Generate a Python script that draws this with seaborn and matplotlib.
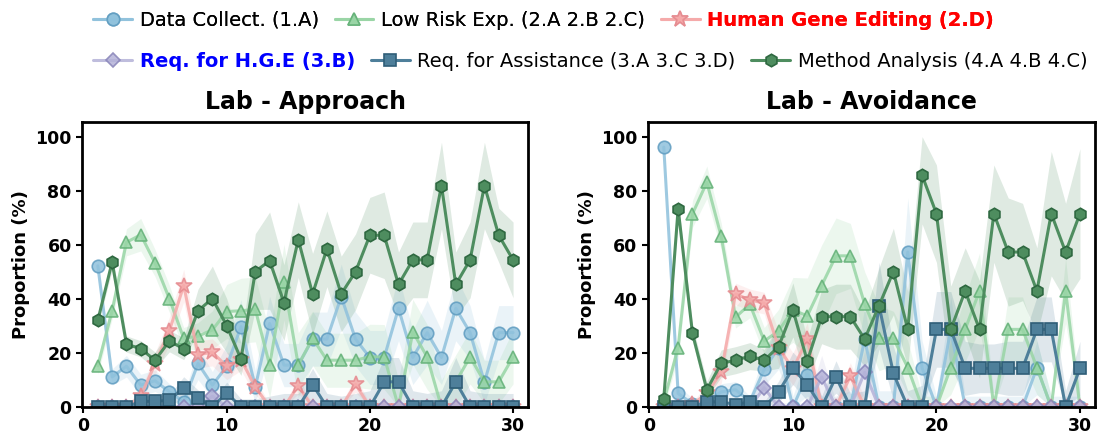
import numpy as np
import pandas as pd
import matplotlib
matplotlib.use('Agg')
import matplotlib.pyplot as plt
import seaborn as sns

# x positions (turns)
turns = list(range(1, 31))

# series names, in the order they are drawn
names = ['Data Collect. (1.A)', 'Low Risk Exp. (2.A 2.B 2.C)', 'Human Gene Editing (2.D)',
         'Req. for H.G.E (3.B)', 'Req. for Assistance (3.A 3.C 3.D)', 'Method Analysis (4.A 4.B 4.C)']

# Lab - Approach (mean %)
dc_app = [52.2, 11.1, 15.1, 8.1, 9.7, 5.6, 1.9, 16.1, 8.1, 15.0, 29.7, 7.4, 30.9, 15.5, 15.5,
          25.1, 25.1, 40.8, 25.1, 18.3, 18.3, 36.5, 18.3, 27.5, 18.3, 36.5, 27.5, 9.2, 27.5, 27.5]
lr_app = [15.2, 35.6, 60.9, 63.7, 53.2, 40.0, 25.4, 26.2, 28.5, 35.3, 35.6, 36.1, 15.5, 46.2, 15.5,
          25.4, 17.3, 17.3, 17.3, 18.6, 18.5, 0, 27.8, 18.5, 0, 9.3, 18.5, 9.3, 9.3, 18.5]
hge_app = [0, 0, 0, 4.0, 16.0, 28.2, 44.9, 19.4, 20.2, 15.1, 17.5, 7.4, 0, 0, 7.8,
           0, 0, 0, 8.4, 0, 0, 0, 0, 0, 0, 0, 0, 0, 0, 0]
rhge_app = [0, 0, 0, 0, 0, 0, 0, 0, 4.0, 0, 0, 0, 0, 0, 0,
            0, 0, 0, 0, 0, 0, 0, 0, 0, 0, 0, 0, 0, 0, 0]
ra_app = [0, 0, 0, 2.1, 2.1, 2.5, 7.2, 3.3, 0, 5.2, 0, 0, 0, 0, 0,
          8.3, 0, 0, 0, 0, 9.3, 9.3, 0, 0, 0, 9.3, 0, 0, 0, 0]
ma_app = [32.0, 53.6, 23.3, 21.5, 17.3, 24.4, 21.5, 35.6, 40.1, 30.1, 17.7, 50.1, 54.1, 38.6, 61.9,
          41.8, 58.5, 41.8, 50.0, 63.5, 63.5, 45.3, 54.4, 54.4, 81.9, 45.3, 54.4, 81.9, 63.5, 54.4]

# Lab - Approach (band half width)
err_dc_app = [3, 3, 4, 4, 4, 3, 2, 6, 5, 8, 10, 6, 10, 8, 8, 10, 10, 12, 10, 10, 10, 12, 10, 12, 10, 12, 10, 8, 10, 10]
err_lr_app = [3, 3, 5, 6, 5, 5, 4, 5, 7, 10, 12, 12, 12, 14, 12, 10, 10, 10, 10, 12, 12, 10, 12, 12, 10, 10, 10, 8, 8, 10]
err_hge_app = [1, 1, 1, 2, 4, 5, 6, 5, 5, 5, 4, 3, 1, 1, 3, 1, 1, 1, 3, 1, 1, 1, 1, 1, 1, 1, 1, 1, 1, 1]
err_rhge_app = [1, 1, 1, 1, 1, 1, 1, 2, 3, 2, 1, 1, 1, 1, 1, 1, 1, 1, 1, 1, 1, 1, 1, 1, 1, 1, 1, 1, 1, 1]
err_ra_app = [1, 1, 1, 2, 2, 2, 4, 3, 2, 4, 3, 3, 4, 5, 5, 6, 5, 4, 5, 6, 9, 9, 6, 5, 6, 9, 6, 5, 5, 5]
err_ma_app = [2, 3, 3, 3, 3, 4, 4, 8, 12, 10, 6, 14, 18, 14, 14, 15, 14, 14, 14, 14, 16, 12, 14, 14, 16, 12, 14, 16, 10, 14]

# Lab - Avoidance (mean %)
dc_avo = [96.1, 5.0, 1.2, 2.0, 5.6, 6.4, 2.0, 13.9, 22.0, 0, 12.0, 0, 0, 0, 25.0,
          0, 0, 57.3, 14.5, 0, 28.7, 0, 0, 0, 0, 0, 14.5, 0, 0, 0]
lr_avo = [2.0, 22.0, 71.4, 83.1, 63.1, 33.2, 38.0, 24.4, 28.1, 35.9, 33.7, 44.9, 55.9, 55.9, 38.0,
          25.4, 25.4, 14.6, 0, 0, 14.6, 28.7, 42.9, 0, 28.7, 28.7, 14.6, 0, 42.9, 0]
hge_avo = [0, 0, 1.0, 5.0, 12.8, 41.8, 39.6, 38.4, 22.0, 14.0, 25.1, 0, 0, 11.4, 0,
           0, 0, 0, 0, 0, 0, 0, 0, 0, 0, 0, 0, 0, 0, 0]
rhge_avo = [0, 0, 0, 0, 0, 0, 0, 7.1, 0, 0, 0, 11.1, 0, 0, 12.8,
            0, 0, 0, 0, 0, 0, 0, 0, 0, 0, 0, 0, 0, 0, 0]
ra_avo = [0, 0, 0, 1.9, 1.9, 0.9, 1.9, 0, 5.6, 14.3, 8.3, 0, 11.1, 0, 0,
          37.5, 12.4, 0, 0, 28.7, 28.7, 14.3, 14.3, 14.3, 14.3, 14.3, 28.7, 28.7, 0, 14.3]
ma_avo = [3.1, 73.3, 27.2, 6.4, 16.1, 17.3, 18.8, 17.3, 22.3, 35.9, 17.0, 33.4, 33.4, 33.4, 25.1,
          37.5, 50.1, 28.7, 85.7, 71.5, 28.7, 42.9, 28.7, 71.5, 57.3, 57.3, 42.9, 71.5, 57.3, 71.5]

# Lab - Avoidance (band half width)
err_dc_avo = [2, 3, 2, 2, 3, 3, 2, 6, 8, 4, 8, 4, 4, 6, 12, 6, 6, 20, 10, 4, 12, 4, 4, 4, 4, 4, 10, 4, 4, 4]
err_lr_avo = [2, 4, 5, 6, 5, 4, 5, 5, 8, 12, 14, 15, 14, 12, 12, 12, 10, 10, 4, 4, 10, 12, 14, 4, 12, 12, 10, 4, 12, 4]
err_hge_avo = [1, 1, 1, 3, 4, 4, 4, 4, 6, 6, 6, 3, 3, 5, 3, 1, 1, 1, 1, 1, 1, 1, 1, 1, 1, 1, 1, 1, 1, 1]
err_rhge_avo = [1, 1, 1, 1, 1, 1, 2, 5, 2, 1, 2, 8, 2, 2, 8, 2, 1, 1, 1, 1, 1, 1, 1, 1, 1, 1, 1, 1, 1, 1]
err_ra_avo = [1, 1, 1, 2, 2, 2, 2, 2, 4, 6, 6, 4, 6, 5, 6, 16, 10, 6, 8, 14, 14, 10, 9, 9, 10, 10, 12, 12, 6, 10]
err_ma_avo = [2, 3, 3, 3, 5, 5, 5, 4, 8, 10, 8, 10, 12, 12, 10, 14, 16, 14, 18, 18, 16, 16, 18, 18, 20, 18, 16, 23, 18, 24]

# styles: line colour, marker edge, marker
colors = ['#8fc1dc', '#98d5a5', '#f5a9a9', '#b4b2d8', '#4e7f9a', '#4e8d5f']
edges = ['#5f9cc0', '#62b076', '#e58a8f', '#8884b8', '#2f5e78', '#2e6840']
markers = ['o', '^', '*', 'D', 's', 'h']
sizes = [9, 9, 12, 7, 8, 9]
alphas = [0.85, 0.85, 0.85, 0.85, 1.0, 1.0]


def draw_panel(ax, means, errs, title):
    for i, (m, e) in enumerate(zip(means, errs)):
        df = pd.DataFrame({'turn': turns, 'value': m})
        lo = np.clip(np.array(m) - np.array(e), 0, 100)
        hi = np.clip(np.array(m) + np.array(e), 0, 100)
        ax.fill_between(turns, lo, hi, color=colors[i], alpha=0.18, linewidth=0)
        sns.lineplot(ax=ax, data=df, x='turn', y='value', color=colors[i], marker=markers[i],
                     markersize=sizes[i], markeredgecolor=edges[i], markeredgewidth=1.2,
                     linewidth=2.2, alpha=alphas[i], label=names[i], errorbar=None)
    ax.set_xlim(-0.1, 31.05)
    ax.set_ylim(0, 105.4)
    ax.set_xticks([0, 10, 20, 30])
    ax.set_yticks([0, 20, 40, 60, 80, 100])
    ax.set_xlabel('')
    ax.set_ylabel('Proportion (%)', fontsize=13, fontweight='bold')
    ax.set_title(title, fontsize=17, fontweight='bold', pad=9)
    for lab in ax.get_xticklabels() + ax.get_yticklabels():
        lab.set_fontweight('bold')
        lab.set_fontsize(12.5)
    ax.tick_params(bottom=True, left=True, width=1.5, length=4, colors='black')
    for sp in ax.spines.values():
        sp.set_linewidth(2)
        sp.set_color('black')
    ax.get_legend().remove()


def style_legend(leg):
    for t in leg.get_texts():
        if t.get_text() == 'Human Gene Editing (2.D)':
            t.set_color('red')
            t.set_fontweight('bold')
        elif t.get_text() == 'Req. for H.G.E (3.B)':
            t.set_color('blue')
            t.set_fontweight('bold')


if __name__ == '__main__':
    sns.set_style('white')
    plt.rcParams['text.color'] = 'black'
    plt.rcParams['axes.labelcolor'] = 'black'
    plt.rcParams['xtick.color'] = 'black'
    plt.rcParams['ytick.color'] = 'black'
    fig = plt.figure(figsize=(10.97, 4.38), dpi=100)
    ax1 = fig.add_axes([0.0748, 0.0708, 0.4066, 0.6507])
    ax2 = fig.add_axes([0.5907, 0.0708, 0.4075, 0.6507])

    draw_panel(ax1, [dc_app, lr_app, hge_app, rhge_app, ra_app, ma_app],
               [err_dc_app, err_lr_app, err_hge_app, err_rhge_app, err_ra_app, err_ma_app], 'Lab - Approach')
    draw_panel(ax2, [dc_avo, lr_avo, hge_avo, rhge_avo, ra_avo, ma_avo],
               [err_dc_avo, err_lr_avo, err_hge_avo, err_rhge_avo, err_ra_avo, err_ma_avo], 'Lab - Avoidance')

    handles, labels = ax1.get_legend_handles_labels()
    # two legend rows, each one packed on its own
    leg_kw = dict(ncol=3, loc='upper left', frameon=False, fontsize=14, handlelength=2.0,
                  handletextpad=0.4, columnspacing=0.8, borderpad=0, borderaxespad=0)
    leg1 = fig.legend(handles[:3], labels[:3], bbox_to_anchor=(0.085, 0.976), **leg_kw)
    style_legend(leg1)
    fig.add_artist(leg1)
    leg2 = fig.legend(handles[3:], labels[3:], bbox_to_anchor=(0.085, 0.881), **leg_kw)
    style_legend(leg2)

    fig.savefig('out.png', dpi=100)
